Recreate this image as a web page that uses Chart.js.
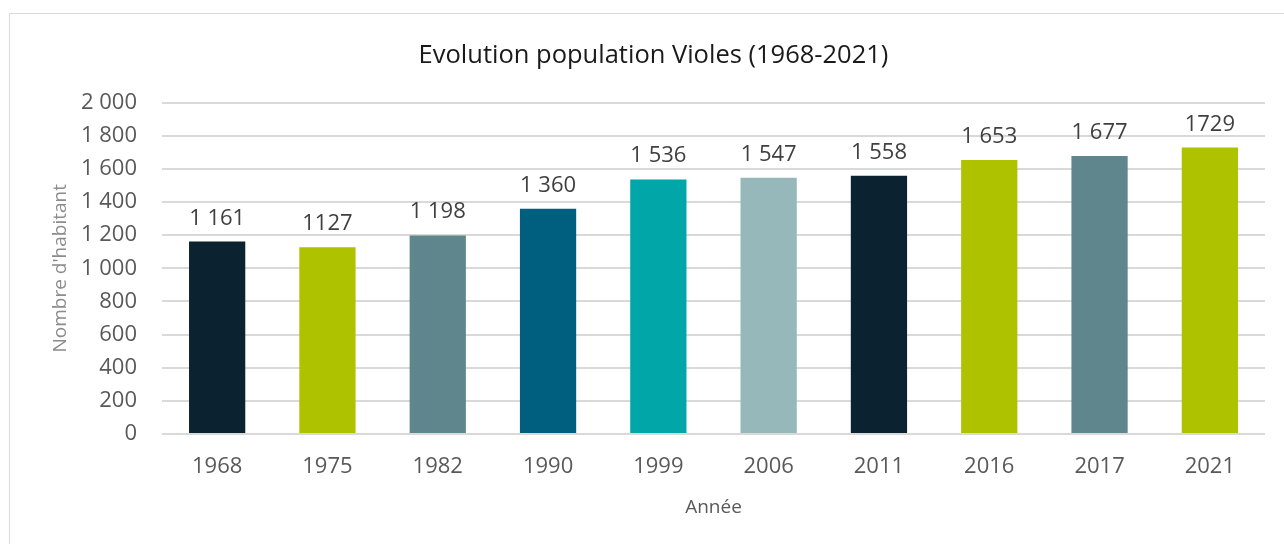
<!DOCTYPE html>
<html>
<head>
<meta charset="utf-8">
<script src="https://cdn.jsdelivr.net/npm/chart.js@4"></script>
<style>
  html, body { margin: 0; padding: 0; background: #fff; }
  body { width: 1284px; height: 544px; position: relative; overflow: hidden; }
  #frame { position: absolute; left: 9px; top: 13px; width: 1290px; height: 560px; border: 1px solid #d9d9d9; box-sizing: border-box; }
  #wrap { position: absolute; left: 0; top: 0; width: 1284px; height: 544px; }
</style>
</head>
<body>
<div id="frame"></div>
<div id="wrap"><canvas id="chart"></canvas></div>
<script>
const years = ["1968", "1975", "1982", "1990", "1999", "2006", "2011", "2016", "2017", "2021"];
const population = [1161, 1127, 1198, 1360, 1536, 1547, 1558, 1653, 1677, 1729];
const valueLabels = ["1 161", "1127", "1 198", "1 360", "1 536", "1 547", "1 558", "1 653", "1 677", "1729"];
const barColors = ["#0b2330", "#aec200", "#5f868c", "#005f7f", "#00a6a8", "#96b8ba", "#0b2330", "#aec200", "#5f868c", "#aec200"];

const FONT = "'Open Sans', 'Noto Sans', sans-serif";

// spaces as thousands separator, like the original
function fmt(v) {
  return String(v).replace(/\B(?=(\d{3})+(?!\d))/g, " ");
}

const valueLabelPlugin = {
  id: "valueLabels",
  afterDatasetsDraw(chart) {
    const ctx = chart.ctx;
    const meta = chart.getDatasetMeta(0);
    ctx.save();
    ctx.font = "22px " + FONT;
    ctx.fillStyle = "#404040";
    ctx.textAlign = "center";
    ctx.textBaseline = "alphabetic";
    meta.data.forEach((bar, i) => {
      ctx.fillText(valueLabels[i], bar.x, bar.y - 17);
    });
    ctx.restore();
  }
};

new Chart(document.getElementById("chart"), {
  type: "bar",
  data: {
    labels: years,
    datasets: [{
      data: population,
      backgroundColor: barColors,
      barPercentage: 0.51,
      categoryPercentage: 1
    }]
  },
  options: {
    responsive: true,
    maintainAspectRatio: false,
    animation: false,
    layout: { padding: { left: 42, right: 19, top: 0, bottom: 0 } },
    plugins: {
      legend: { display: false },
      tooltip: { enabled: false },
      title: {
        display: true,
        text: "Evolution population Violes (1968-2021)",
        color: "#1a1a1a",
        font: { family: FONT, size: 25.5, weight: "normal" },
        padding: { top: 40, bottom: 32 }
      }
    },
    scales: {
      x: {
        grid: { display: false, drawTicks: false },
        border: { display: false },
        ticks: { color: "#595959", font: { family: FONT, size: 22 }, padding: 20 },
        title: {
          display: true,
          text: "Année",
          color: "#595959",
          font: { family: FONT, size: 19 },
          padding: { top: 0, bottom: 25 }
        },
        afterFit: s => { s.height = 110; }
      },
      y: {
        min: 0,
        max: 2000,
        ticks: {
          stepSize: 200,
          color: "#595959",
          font: { family: FONT, size: 22 },
          padding: 25,
          callback: v => fmt(v)
        },
        grid: { color: "#d9d9d9", lineWidth: 2, drawTicks: false },
        border: { display: false },
        title: {
          display: true,
          text: "Nombre d'habitant",
          color: "#8c8c8c",
          font: { family: FONT, size: 19 },
          padding: { top: 7, bottom: 0 }
        },
        afterFit: s => { s.width = 120; }
      }
    }
  },
  plugins: [valueLabelPlugin]
});
</script>
</body>
</html>
